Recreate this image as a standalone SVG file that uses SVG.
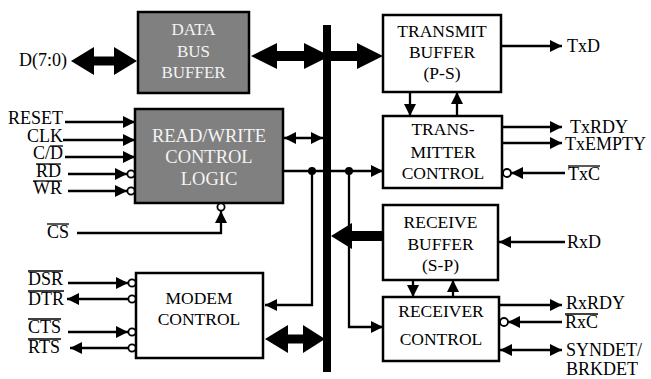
<svg xmlns="http://www.w3.org/2000/svg" width="651" height="379" viewBox="0 0 651 379">
<defs>
<marker id="ah" viewBox="0 0 12 12" refX="12" refY="6" markerWidth="12" markerHeight="12" markerUnits="userSpaceOnUse" orient="auto-start-reverse"><path d="M0,0 L12,6 L0,12 z" fill="#000"/></marker>
</defs>
<style>
.box{fill:#fff;stroke:#000;stroke-width:2.5}
.gbox{fill:#808080;stroke:#000;stroke-width:2.5}
.bt{font-family:"Liberation Serif","Times New Roman",serif;font-size:17.5px;text-anchor:middle;fill:#000}
.gt{fill:#f4f4f4}
.g17{font-size:17px}
.g18{font-size:18.5px}
.lbl{font-family:"Liberation Serif","Times New Roman",serif;font-size:18px;fill:#000}
.end{text-anchor:end}
.w{fill:none;stroke:#000;stroke-width:2.3}
.ar{marker-end:url(#ah)}
.da{marker-start:url(#ah);marker-end:url(#ah)}
.bub{fill:#fff;stroke:#000;stroke-width:1.8}
.ovl{stroke:#000;stroke-width:1.3}
.thick{fill:#000}
</style>
<rect width="651" height="379" fill="#fff"/>

<g id="connectors">
  <polygon class="thick" points="71,61 94,47 94,56.5 114,56.5 114,47 137,61 114,75 114,65.5 94,65.5 94,75"/>
  <polygon class="thick" points="251,56 277,43 277,51 304,51 304,43 330,56 304,69 304,61 277,61 277,69"/>
  <polygon class="thick" points="331,51 357,51 357,43 383,56 357,69 357,61 331,61"/>
  <polygon class="thick" points="384,231 352,231 352,223 331,236 352,249 352,241 384,241"/>
  <polygon class="thick" points="265,339 288,325 288,334.5 303,334.5 303,325 325,339 303,353 303,343.5 288,343.5 288,353"/>

  <path class="w ar" d="M65,122 H135"/>
  <path class="w ar" d="M63,140 H135"/>
  <path class="w ar" d="M65,157 H135"/>
  <path class="w ar" d="M68,174 H127"/>
  <path class="w ar" d="M68,191 H127"/>
  <path class="w ar" d="M77,233 H221 V211"/>
  <path class="w ar" d="M68,283 H128"/>
  <path class="w ar" d="M128,299 H67"/>
  <path class="w ar" d="M68,332 H128"/>
  <path class="w ar" d="M128,348 H70"/>

  <path class="w da" d="M284,138 H323"/>
  <path class="w ar" d="M283,171 H383"/>
  <path class="w ar" d="M312,171 V305 H265"/>
  <path class="w ar" d="M349,171 V327 H383"/>
  <circle cx="312" cy="171" r="4"/>
  <circle cx="349" cy="171" r="4"/>

  <path class="w ar" d="M410,92 V116"/>
  <path class="w ar" d="M457,116 V92"/>
  <path class="w ar" d="M501,46 H562"/>
  <path class="w ar" d="M502,127 H562"/>
  <path class="w ar" d="M502,143 H562"/>
  <path class="w ar" d="M565,173 H511"/>
  <path class="w ar" d="M565,242 H499"/>
  <path class="w ar" d="M413,280 V297"/>
  <path class="w ar" d="M453,297 V280"/>
  <path class="w ar" d="M499,305 H562"/>
  <path class="w ar" d="M562,322 H508"/>
  <path class="w da" d="M500,350 H562"/>

  <rect id="bus" x="323" y="25" width="8" height="347" fill="#000"/>
</g>

<g id="data-bus-buffer">
  <rect class="gbox" x="138" y="12" width="111" height="81"/>
  <text class="bt gt g17" x="193.5" y="35">DATA</text>
  <text class="bt gt g17" x="193.5" y="57">BUS</text>
  <text class="bt gt g17" x="193.5" y="78">BUFFER</text>
</g>

<g id="read-write-control-logic">
  <rect class="gbox" x="135" y="109" width="148" height="94"/>
  <text class="bt gt g18" x="209" y="142">READ/WRITE</text>
  <text class="bt gt g18" x="209" y="163">CONTROL</text>
  <text class="bt gt g18" x="209" y="185">LOGIC</text>
  <circle class="bub" cx="131" cy="174" r="3.6"/>
  <circle class="bub" cx="131" cy="191" r="3.6"/>
  <circle class="bub" cx="221" cy="207" r="3.6"/>
</g>

<g id="modem-control">
  <rect class="box" x="136" y="273" width="127" height="85"/>
  <text class="bt" x="199" y="304">MODEM</text>
  <text class="bt" x="199" y="325">CONTROL</text>
  <circle class="bub" cx="132" cy="283" r="3.6"/>
  <circle class="bub" cx="132" cy="299" r="3.6"/>
  <circle class="bub" cx="132" cy="332" r="3.6"/>
  <circle class="bub" cx="132" cy="348" r="3.6"/>
</g>

<g id="transmit-buffer">
  <rect class="box" x="383" y="15" width="118" height="77"/>
  <text class="bt" x="442" y="37">TRANSMIT</text>
  <text class="bt" x="442" y="58">BUFFER</text>
  <text class="bt" x="442" y="79">(P-S)</text>
</g>

<g id="transmitter-control">
  <rect class="box" x="383" y="116" width="119" height="72"/>
  <text class="bt" x="443" y="135">TRANS-</text>
  <text class="bt" x="443" y="158">MITTER</text>
  <text class="bt" x="443" y="179">CONTROL</text>
  <circle class="bub" cx="507" cy="173" r="4"/>
</g>

<g id="receive-buffer">
  <rect class="box" x="383" y="205" width="115" height="75"/>
  <text class="bt" x="440.5" y="228">RECEIVE</text>
  <text class="bt" x="440.5" y="250">BUFFER</text>
  <text class="bt" x="440.5" y="271">(S-P)</text>
</g>

<g id="receiver-control">
  <rect class="box" x="383" y="297" width="116" height="64"/>
  <text class="bt" x="441" y="317">RECEIVER</text>
  <text class="bt" x="441" y="345">CONTROL</text>
  <circle class="bub" cx="504" cy="322" r="4"/>
</g>

<g id="labels">
  <text class="lbl end" x="67" y="66">D(7:0)</text>
  <text class="lbl end" x="63" y="124">RESET</text>
  <text class="lbl end" x="63" y="142">CLK</text>
  <text class="lbl end" x="63" y="159">C/D</text>
  <text class="lbl end" x="61" y="177">RD</text>
  <text class="lbl end" x="62" y="194">WR</text>
  <text class="lbl" x="47" y="238">CS</text>
  <text class="lbl" x="28" y="285">DSR</text>
  <text class="lbl" x="28" y="305">DTR</text>
  <text class="lbl" x="28" y="333">CTS</text>
  <text class="lbl" x="28" y="353">RTS</text>
  <text class="lbl" x="567" y="52">TxD</text>
  <text class="lbl" x="570" y="133">TxRDY</text>
  <text class="lbl" x="565" y="150">TxEMPTY</text>
  <text class="lbl" x="568" y="180">TxC</text>
  <text class="lbl" x="567" y="248">RxD</text>
  <text class="lbl" x="566" y="309">RxRDY</text>
  <text class="lbl" x="565" y="328">RxC</text>
  <text class="lbl" x="566" y="356">SYNDET/</text>
  <text class="lbl" x="566" y="375">BRKDET</text>
  <g id="overlines">
    <line class="ovl" x1="50" y1="146" x2="63" y2="146"/>
    <line class="ovl" x1="36" y1="164" x2="61" y2="164"/>
    <line class="ovl" x1="33" y1="181" x2="62" y2="181"/>
    <line class="ovl" x1="47" y1="224" x2="69" y2="224"/>
    <line class="ovl" x1="28" y1="271" x2="63" y2="271"/>
    <line class="ovl" x1="28" y1="291" x2="64" y2="291"/>
    <line class="ovl" x1="28" y1="319" x2="61" y2="319"/>
    <line class="ovl" x1="28" y1="339" x2="61" y2="339"/>
    <line class="ovl" x1="568" y1="166" x2="600" y2="166"/>
    <line class="ovl" x1="565" y1="314" x2="598" y2="314"/>
  </g>
</g>
</svg>
